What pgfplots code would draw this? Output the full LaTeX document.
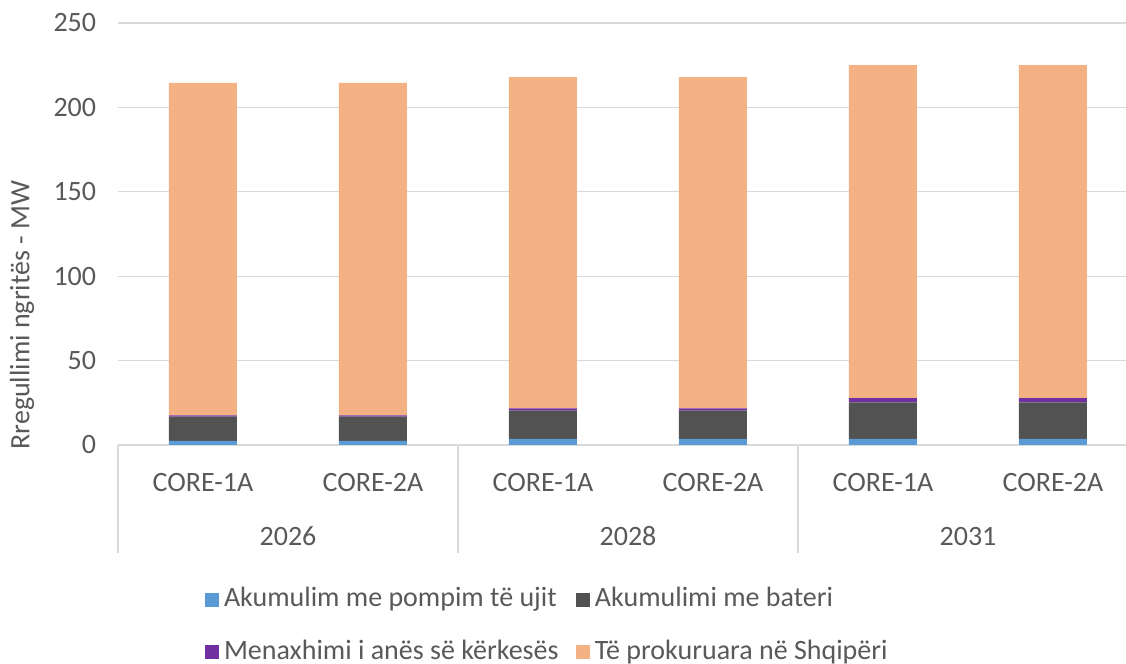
\documentclass[border=0pt]{standalone}
\usepackage{pgfplots}
\pgfplotsset{compat=1.18}
\usepackage{fontspec}
\setmainfont{Carlito}
\definecolor{txt}{HTML}{595959}
\definecolor{gridc}{HTML}{D9D9D9}
\definecolor{cblue}{HTML}{5B9BD5}
\definecolor{cgray}{HTML}{525252}
\definecolor{cpurp}{HTML}{7030A0}
\definecolor{corange}{HTML}{F4B183}
\newcommand{\fs}{\fontsize{16.8}{20}\selectfont}
\pgfplotsset{sq/.style={legend image code/.code={\fill[##1] (0pt,0pt) rectangle (8.4pt,8.4pt);}}}
\begin{document}
\begin{tikzpicture}
\begin{axis}[
  at={(0pt,0pt)}, anchor=south west,
  scale only axis, width=612pt, height=253.2pt,
  xmin=-0.5, xmax=5.5, ymin=0, ymax=250,
  ybar stacked, bar width=40.8pt,
  axis line style={draw=none},
  major tick length=0pt,
  ytick={0,50,...,250},
  xtick={0,...,5},
  xticklabels={CORE-1A,CORE-2A,CORE-1A,CORE-2A,CORE-1A,CORE-2A},
  ymajorgrids, grid style={gridc, line width=0.8pt},
  tick label style={font=\fs, text=txt},
  /pgf/number format/assume math mode=true,
  yticklabel style={anchor=east, xshift=-9.6pt},
  xticklabel style={anchor=base, yshift=-28.2pt},
  clip=false,
  legend columns=2,
  legend style={draw=none, fill=none, inner sep=0pt, outer sep=0pt,
    at={(axis description cs:0.0853,-0.3357)}, anchor=north west,
    font=\fs, text=txt, row sep=15.6pt,
    /tikz/column 1/.style={column sep=3pt},
    /tikz/column 2/.style={column sep=0pt},
    /tikz/column 3/.style={column sep=3pt},
    nodes={inner sep=0pt, anchor=base west, text height=12pt, text depth=4pt}},
]
\addplot[fill=cblue, draw=none, sq] coordinates {(0,2.5) (1,2.5) (2,3.6) (3,3.6) (4,3.6) (5,3.6)};
\addlegendentry{\makebox[211.2pt][l]{Akumulim me pompim të ujit}}
\addplot[fill=cgray, draw=none, sq] coordinates {(0,14.3) (1,14.3) (2,16.7) (3,16.7) (4,21.7) (5,21.7)};
\addlegendentry{Akumulimi me bateri}
\addplot[fill=cpurp, draw=none, sq] coordinates {(0,0.8) (1,0.8) (2,1.4) (3,1.4) (4,2.5) (5,2.5)};
\addlegendentry{\makebox[211.2pt][l]{Menaxhimi i anës së kërkesës}}
\addplot[fill=corange, draw=none, sq] coordinates {(0,196.9) (1,196.9) (2,196.3) (3,196.3) (4,197.2) (5,197.2)};
\addlegendentry{Të prokuruara në Shqipëri}
\draw[gridc, line width=0.8pt] (axis cs:-0.5,0) -- ++(0pt,-64.8pt);
\draw[gridc, line width=0.8pt] (axis cs:1.5,0) -- ++(0pt,-64.8pt);
\draw[gridc, line width=0.8pt] (axis cs:3.5,0) -- ++(0pt,-64.8pt);
\draw[gridc, line width=0.8pt] (axis cs:5.5,0) -- ++(0pt,-64.8pt);
\node[anchor=base, font=\fs, text=txt] at ([yshift=-60.6pt]axis cs:0.5,0) {2026};
\node[anchor=base, font=\fs, text=txt] at ([yshift=-60.6pt]axis cs:2.5,0) {2028};
\node[anchor=base, font=\fs, text=txt] at ([yshift=-60.6pt]axis cs:4.5,0) {2031};
\end{axis}
\node[rotate=90, font=\fs, text=txt] at (-57.6pt,78pt) {Rregullimi ngritës - MW};
\pgfresetboundingbox
\path (-70.8pt,-131.4pt) rectangle (604.8pt,267pt);
\end{tikzpicture}
\end{document}
